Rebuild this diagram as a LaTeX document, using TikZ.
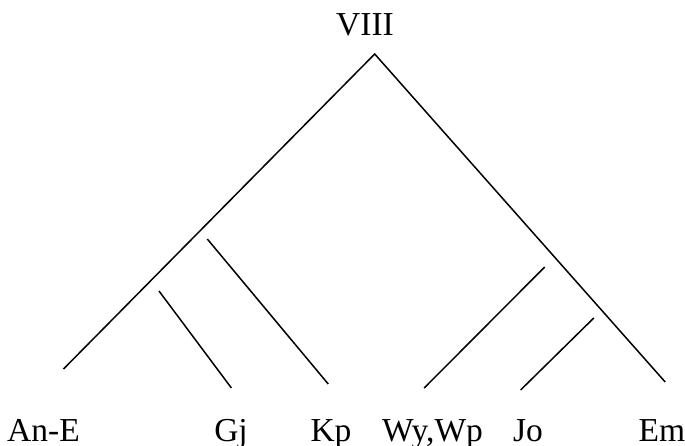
\documentclass[tikz,border=0pt]{standalone}
\usepackage{fontspec}
\setmainfont{Liberation Serif}
\begin{document}
\begin{tikzpicture}[x=1pt,y=-1pt,
  branch/.style={line width=1.5pt, line cap=butt},
  taxon/.style={anchor=base, inner sep=0pt, font=\fontsize{33.5}{38}\selectfont}]
\useasboundingbox (0,0) rectangle (685,446);
% labels
\node[taxon] (root) at (365,36) {VIII};
\node[taxon] (ane) at (43.5,441) {An-E};
\node[taxon] (gj)  at (231,441) {Gj};
\node[taxon] (kp)  at (331,441) {Kp};
\node[taxon] (wy)  at (432.5,441) {Wy,Wp};
\node[taxon] (jo)  at (528,441) {Jo};
\node[taxon] (em)  at (662,441) {Em};
% branch end points
\coordinate (apex) at (374.7,54);
\coordinate (l1) at (63.5,369);
\coordinate (r1) at (665.2,382);
\coordinate (g0) at (159,291);   \coordinate (g1) at (231.4,388);
\coordinate (k0) at (207.3,239); \coordinate (k1) at (328.2,384);
\coordinate (w0) at (544.7,267); \coordinate (w1) at (424.2,388);
\coordinate (j0) at (593.8,318); \coordinate (j1) at (520.6,390);
% branches
\draw[branch] (l1) -- (apex) -- (r1);
\draw[branch] (g0) -- (g1);
\draw[branch] (k0) -- (k1);
\draw[branch] (w0) -- (w1);
\draw[branch] (j0) -- (j1);
\end{tikzpicture}
\end{document}
